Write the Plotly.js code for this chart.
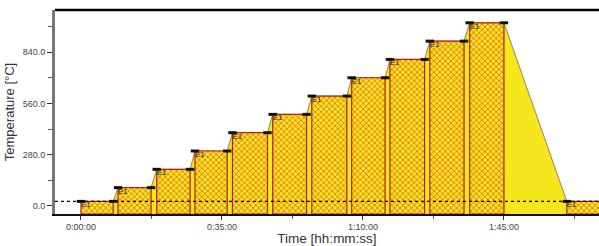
<!DOCTYPE html>
<html>
<head>
<meta charset="utf-8">
<script src="https://cdn.plot.ly/plotly-3.0.1.min.js"></script>
<style>html,body{margin:0;padding:0;background:#fff;}#chart{width:599px;height:246px;}</style>
</head>
<body>
<div id="chart"></div>
<script>
// Dwell segments (minutes) and temperatures (°C)
const dwellStart = [0, 9.2, 18.8, 28.3, 37.6, 47.6, 57.3, 67.2, 76.7, 86.6, 96.5, 120.6];
const dwellEnd   = [8.0, 17.4, 27.1, 36.3, 46.3, 56.0, 66.0, 75.5, 85.3, 95.1, 105.0, 130];
const dwellTemp  = [25, 100, 200, 300, 400, 500, 600, 700, 800, 900, 1000, 25];
const dwellLabel = ['E1','E1','E1','E1','E1','E1','E1','E1','E1','E1','E1','E1'];
const ambient = 25;
const xTickVals = [0, 35, 70, 105];
const xTickText = ['0:00:00', '0:35:00', '1:10:00', '1:45:00'];
const xMinorVals = [17.5, 52.5, 87.5, 122.5];
const yTickVals = [0, 280, 560, 840];
const yTickText = ['0.0', '280.0', '560.0', '840.0'];
const yMinorVals = [140, 420, 700, 980];
const xRange = [-6.45, 128.6];
const yRange = [-44, 1070];

const YEL = '#f6e61c';
const base = yRange[0];

// profile
const px = [], py = [];
for (let i = 0; i < dwellStart.length; i++) {
  px.push(dwellStart[i], dwellEnd[i]);
  py.push(dwellTemp[i], dwellTemp[i]);
}
const fx = px.concat([px[px.length-1], px[0]]);
const fy = py.concat([base, base]);

// dwell rectangles (hatched)
const rx = [], ry = [];
for (let i = 0; i < dwellStart.length; i++) {
  const s = dwellStart[i], e = dwellEnd[i], t = dwellTemp[i];
  rx.push(s, s, e, e, s, null);
  ry.push(base, t, t, base, base, null);
}

const traces = [
  { type:'scatter', x:fx, y:fy, mode:'none', fill:'toself', fillcolor:YEL, hoverinfo:'skip', showlegend:false },
  { type:'scatter', x:px, y:py, mode:'lines', line:{color:'#8c8a55', width:1}, showlegend:false },
  { type:'scatter', x:rx, y:ry, mode:'lines', fill:'toself', fillcolor:YEL,
    fillpattern:{shape:'x', fgcolor:'#e04a28', bgcolor:YEL, size:4, solidity:0.3},
    line:{color:'#b0201a', width:1.2}, showlegend:false },
  { type:'scatter', x:dwellStart.concat(dwellEnd), y:dwellTemp.concat(dwellTemp), mode:'markers',
    marker:{symbol:'line-ew', size:6, line:{color:'#111', width:3}}, showlegend:false },
  { type:'scatter', x:dwellStart, y:dwellTemp, mode:'text', text:dwellLabel, textposition:'bottom right',
    textfont:{family:'Liberation Sans, Arial', size:8, color:'#222'}, showlegend:false }
];

const layout = {
  width:599, height:246,
  margin:{l:55, r:0, t:10, b:32},
  paper_bgcolor:'#fff', plot_bgcolor:'#fff',
  font:{family:'Liberation Sans, Arial, sans-serif', color:'#444', size:9},
  xaxis:{range:xRange, tickmode:'array', tickvals:xTickVals, ticktext:xTickText,
    ticks:'outside', ticklen:4, tickwidth:1, tickcolor:'#333',
    minor:{tickmode:'array', tickvals:xMinorVals, ticks:'outside', ticklen:3, tickcolor:'#555'},
    showgrid:false, zeroline:false, showline:true, linecolor:'#111', linewidth:1.5,
    tickfont:{size:9, color:'#444'},
    title:{text:'Time [hh:mm:ss]', font:{size:13.5, color:'#333'}, standoff:3}},
  yaxis:{range:yRange, tickmode:'array', tickvals:yTickVals, ticktext:yTickText,
    ticks:'outside', ticklen:5, tickwidth:1, tickcolor:'#333',
    minor:{tickmode:'array', tickvals:yMinorVals, ticks:'outside', ticklen:4, tickcolor:'#555'},
    showgrid:false, zeroline:false, showline:true, linecolor:'#777', linewidth:3,
    tickfont:{size:9, color:'#444'},
    title:{text:'Temperature [°C]', font:{size:13, color:'#333'}, standoff:6}},
  shapes:[
    {type:'line', xref:'paper', yref:'paper', x0:0, x1:1, y0:1, y1:1, line:{color:'#000', width:2.5}},
    {type:'line', xref:'paper', yref:'y', x0:0, x1:1, y0:ambient, y1:ambient, layer:'above', line:{color:'#000', width:1.2, dash:'dot'}}
  ]
};

Plotly.newPlot('chart', traces, layout, {staticPlot:true, displayModeBar:false});
</script>
</body>
</html>
